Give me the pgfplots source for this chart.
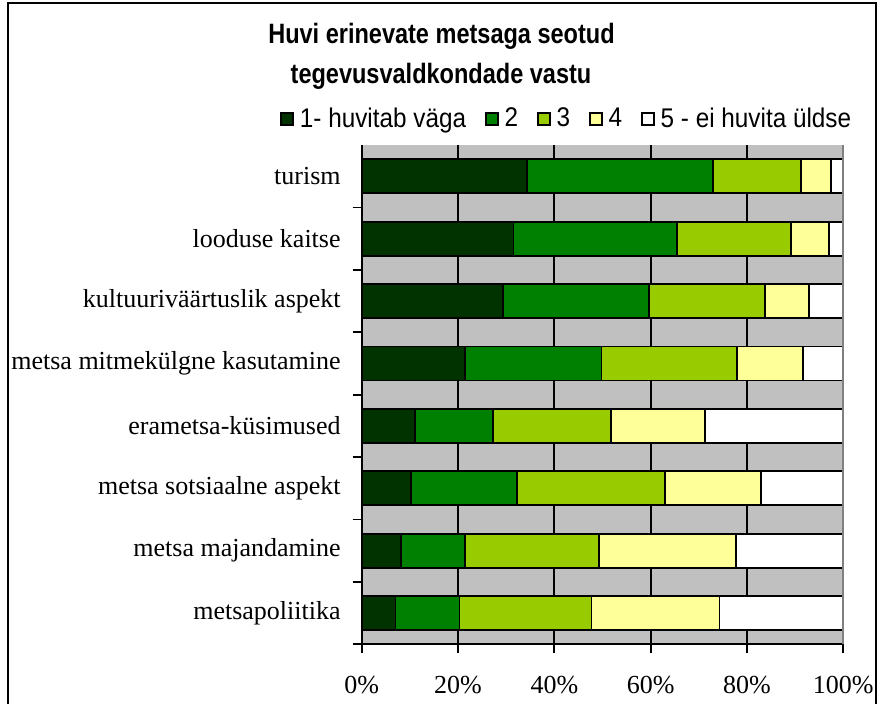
\documentclass[border=0pt]{standalone}
\usepackage{fontspec}
\setmainfont{Liberation Serif}
\newfontfamily\narrowsans[FakeStretch=0.9]{Liberation Sans}
\newfontfamily\titlesans[FakeStretch=0.84]{Liberation Sans}
\usepackage{pgfplots}
\usepackage{pgfplotstable}
\pgfplotsset{compat=1.18}
\definecolor{c1}{HTML}{003300}
\definecolor{c2}{HTML}{008000}
\definecolor{c3}{HTML}{99CC00}
\definecolor{c4}{HTML}{FFFF99}
\definecolor{c5}{HTML}{FFFFFF}
\definecolor{plotbg}{HTML}{C0C0C0}
\definecolor{edgegray}{HTML}{808080}

\pgfplotstableread{
y a b c d e
0 7.0 13.3 27.4 26.6 25.7
1 8.2 13.3 27.8 28.4 22.3
2 10.3 22.0 30.7 19.9 17.1
3 11.1 16.2 24.5 19.5 28.7
4 21.5 28.3 28.1 13.8 8.3
5 29.4 30.3 24.1 9.1 7.1
6 31.5 34.0 23.6 8.0 2.9
7 34.4 38.6 18.2 6.3 2.5
}\datatable

\begin{document}
\begin{tikzpicture}
\useasboundingbox (0,0) rectangle (442pt,-351.5pt);
\draw[line width=1pt] (4pt,-400pt) -- (4pt,-1.5pt) -- (438pt,-1.5pt) -- (438pt,-400pt);
\node[font=\titlesans\bfseries\fontsize{14pt}{16pt}\selectfont, anchor=base, inner sep=0pt] at (220.75pt,-21.8pt) {Huvi erinevate metsaga seotud};
\node[font=\titlesans\bfseries\fontsize{14pt}{16pt}\selectfont, anchor=base, inner sep=0pt] at (220.5pt,-41.8pt) {tegevusvaldkondade vastu};
\begin{axis}[
  at={(180.85pt,-322.15pt)}, anchor=south west,
  scale only axis, width=240.8pt, height=249.65pt,
  xbar stacked, bar width=17pt,
  xmin=0, xmax=100, ymin=-0.5, ymax=7.5,
  axis lines*=left,
  axis line style={line width=1pt, black},
  axis background/.style={fill=plotbg},
  xtick={0,20,...,100}, xticklabels={0\%,20\%,40\%,60\%,80\%,100\%},
  xmajorgrids, major grid style={black, line width=0.9pt},
  tick align=outside, major tick length=4.5pt,
  tick style={black, line width=0.9pt},
  ytick={-0.5,0.5,1.5,2.5,3.5,4.5,5.5,6.5}, yticklabels={},
  extra y ticks={0,1,2,3,4,5,6,7},
  extra y tick labels={metsapoliitika,metsa majandamine,metsa sotsiaalne aspekt,erametsa-küsimused,metsa mitmekülgne kasutamine,kultuuriväärtuslik aspekt,looduse kaitse,turism},
  extra y tick style={major tick length=0pt, grid=none},
  ticklabel style={font=\fontsize{13pt}{15pt}\selectfont},
  xticklabel style={yshift=-8pt},
  yticklabel style={xshift=-7pt},
  legend style={at={(0.428,1.052)}, anchor=center, draw=none, fill=none,
    legend columns=-1, font=\narrowsans\fontsize{13.5pt}{16pt}\selectfont,
    /tikz/every even column/.append style={column sep=7.5pt},
    /tikz/every odd column/.append style={column sep=1pt}},
  legend image code/.code={\draw[#1, line width=0.75pt, draw=black] (0pt,-3pt) rectangle (6pt,3pt);},
  every axis plot/.append style={draw=black, line width=0.9pt},
  clip=false,
]
\draw[edgegray, line width=1pt] (axis cs:100,-0.5) -- (axis cs:100,7.5);
\addplot[fill=c1] table[x=a,y=y]{\datatable};
\addlegendentry{1- huvitab väga}
\addplot[fill=c2] table[x=b,y=y]{\datatable};
\addlegendentry{2}
\addplot[fill=c3] table[x=c,y=y]{\datatable};
\addlegendentry{3}
\addplot[fill=c4] table[x=d,y=y]{\datatable};
\addlegendentry{4}
\addplot[fill=c5] table[x=e,y=y]{\datatable};
\addlegendentry{5 - ei huvita üldse}
\end{axis}
\end{tikzpicture}
\end{document}
